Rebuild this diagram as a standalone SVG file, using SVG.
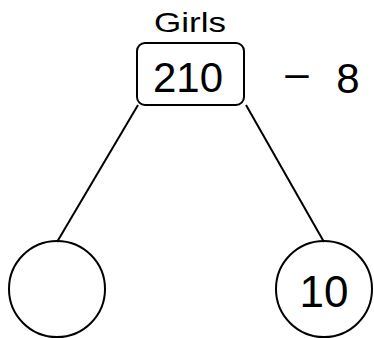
<svg xmlns="http://www.w3.org/2000/svg" width="374" height="338" viewBox="0 0 374 338">
<style>
.s{fill:none;stroke:#000;stroke-width:2}
.t{font-family:"Liberation Sans",Arial,sans-serif;fill:#000;text-anchor:middle}
.g{font-size:28px}
.n{font-size:42px}
</style>
<rect width="374" height="338" fill="#fff"/>
<g id="connectors">
<line class="s" x1="138" y1="105" x2="57" y2="242"/>
<line class="s" x1="246" y1="105" x2="324" y2="242"/>
</g>
<g id="label-girls"><text class="t g" x="190" y="32" textLength="72" lengthAdjust="spacingAndGlyphs">Girls</text></g>
<g id="node-top">
<rect class="s" x="137" y="43" width="107" height="62" rx="8"/>
<text class="t n" x="188" y="92">210</text>
</g>
<g id="label-minus"><text class="t n" x="297" y="87">–</text><text class="t n" x="348" y="93">8</text></g>
<g id="node-left"><circle class="s" cx="57" cy="289" r="48"/></g>
<g id="node-right">
<circle class="s" cx="324" cy="289" r="48"/>
<text class="t" x="324" y="307" style="font-size:44px">10</text>
</g>
</svg>
